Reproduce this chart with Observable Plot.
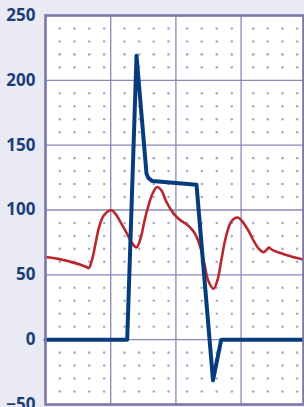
<!DOCTYPE html>
<html>
<head>
<meta charset="utf-8">
<script src="https://cdn.jsdelivr.net/npm/d3@7"></script>
<script src="https://cdn.jsdelivr.net/npm/@observablehq/plot@0.6"></script>
<style>
  html, body { margin: 0; padding: 0; background: #eaeaf4; }
  #chart { width: 304px; height: 407px; overflow: hidden; }
</style>
</head>
<body>
<div id="chart"></div>
<script>
// x in grid-column units (each vertical grid cell = 1)
const blueX = [0, 1.253, 1.396, 1.549, 1.58, 1.64, 2.316, 2.569, 2.695, 3.957];
const blueY = [0, 0, 219, 128, 124.5, 122.3, 119.5, -31.3, 0, 0];

const redX = [0, 0.199, 0.383, 0.537, 0.629, 0.664, 0.715, 0.767, 0.818, 0.894, 1.008,
  1.074, 1.150, 1.242, 1.319, 1.396, 1.457, 1.52, 1.560, 1.641, 1.71, 1.779, 1.856,
  1.968, 2.071, 2.163, 2.255, 2.316, 2.377, 2.439, 2.5, 2.577, 2.638, 2.699, 2.761,
  2.837, 2.899, 2.952, 3.021, 3.113, 3.206, 3.282, 3.344, 3.39, 3.425, 3.477, 3.604,
  3.758, 3.957];
const redY = [63.7, 62.3, 60.0, 57.8, 56.0, 55.2, 62, 74, 86, 95.8, 99.8,
  97, 90.7, 82.5, 75, 71.2, 78, 92, 100, 112.5, 117.7, 115, 106,
  97, 92, 89, 84.5, 79.5, 71, 58, 45, 39.3, 46, 62, 78,
  90, 93.5, 94.2, 91, 84, 75, 69.5, 67.5, 69.2, 71, 69.3, 66.8,
  64.3, 61.7];

const yTicks = [-50, 0, 50, 100, 150, 200, 250];
const xGrid = [1, 2, 3];
const dotXs = [0.219, 0.445, 0.670, 0.900, 1.212, 1.437, 1.661, 1.887,
  2.173, 2.397, 2.627, 2.857, 3.186, 3.409, 3.635, 3.860];
const dotYs = d3.range(-40, 250, 10).filter(v => v % 50 !== 0);

const blue = blueX.map((x, i) => ({x, y: blueY[i]}));
const red = redX.map((x, i) => ({x, y: redY[i]}));
const dots = dotXs.flatMap(x => dotYs.map(y => ({x, y})));

const chart = Plot.plot({
  width: 304,
  height: 407,
  marginLeft: 45,
  marginRight: 1,
  marginTop: 15,
  marginBottom: 3,
  style: {background: "#eaeaf4", fontFamily: "'Open Sans', sans-serif", overflow: "visible"},
  x: {domain: [0, 3.957], axis: null},
  y: {domain: [-50, 250], axis: null},
  marks: [
    Plot.frame({fill: "white", stroke: "none"}),
    Plot.dot(dots, {x: "x", y: "y", r: 1.3, fill: "#a9a8d2", stroke: "none"}),
    Plot.ruleX(xGrid, {stroke: "#8a87b8", strokeWidth: 1.3}),
    Plot.ruleY(yTicks.filter(v => v > -50 && v < 250), {stroke: "#8a87b8", strokeWidth: 1.3}),
    Plot.line(red, {x: "x", y: "y", stroke: "#b8282e", strokeWidth: 2.6, curve: "catmull-rom"}),
    Plot.line(blue, {x: "x", y: "y", stroke: "#063c7c", strokeWidth: 4, strokeLinejoin: "round"}),
    Plot.frame({stroke: "#7b77a8", strokeWidth: 2.6}),
    Plot.axisY(yTicks, {label: null, tickSize: 0, tickPadding: 10, fontSize: 17, fontWeight: "bold", fill: "#1b3f78"})
  ]
});
document.getElementById("chart").appendChild(chart);
</script>
</body>
</html>
